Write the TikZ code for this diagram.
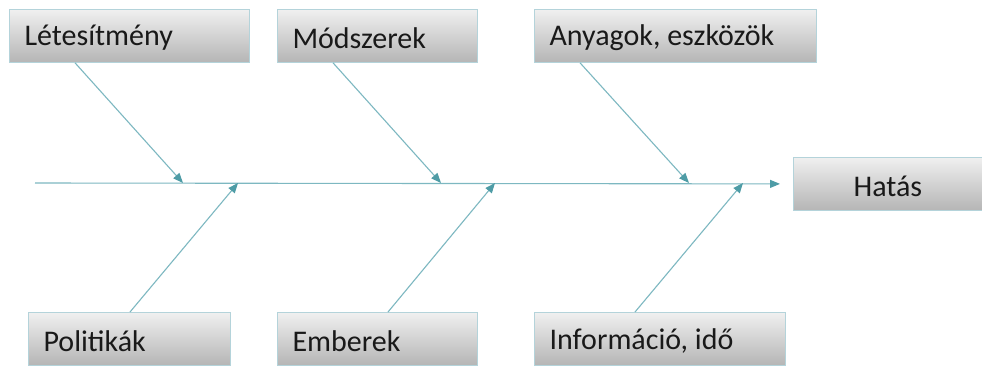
\documentclass[tikz,border=0pt]{standalone}
\usepackage{fontspec}
\setmainfont{Carlito}
\usetikzlibrary{calc,arrows.meta}
\definecolor{bone}{HTML}{7DB8C1}
\definecolor{bonetip}{HTML}{4E9CA6}
\definecolor{boxedge}{HTML}{B4D3DA}
\begin{document}
\begin{tikzpicture}[x=1pt,y=-1pt,
  cause/.style={anchor=north west, minimum height=53pt, inner sep=0pt,
    top color=gray!12, bottom color=gray!58, draw=boxedge, line width=0.8pt},
  label/.style={anchor=west, font=\fontsize{30}{34}\selectfont, text=black!90},
  bonearrow/.style={draw=bone, line width=1.1pt,
    -{Triangle[length=10pt,width=8pt,color=bonetip]}}]
\useasboundingbox (0,0) rectangle (982,365);
\fill[white] (0,0) rectangle (982,365);

% cause boxes
\node[cause, minimum width=240pt] (let) at (9,9) {};
\node[label] at ($(let.west)+(12,2)$) {Létesítmény};
\node[cause, minimum width=200pt] (mod) at (277,9) {};
\node[label] at ($(mod.west)+(12,2)$) {Módszerek};
\node[cause, minimum width=282pt] (any) at (534,9) {};
\node[label] at ($(any.west)+(12,2)$) {Anyagok, eszközök};
\node[cause, minimum width=202pt] (pol) at (28,312) {};
\node[label] at ($(pol.west)+(12,2)$) {Politikák};
\node[cause, minimum width=200pt] (emb) at (277,312) {};
\node[label] at ($(emb.west)+(12,2)$) {Emberek};
\node[cause, minimum width=251pt] (inf) at (534,312) {};
\node[label] at ($(inf.west)+(12,2)$) {Információ, idő};

% effect box
\node[cause, minimum width=189pt] (hat) at (793,157) {};
\node[label, anchor=center] at ($(hat.center)+(0,2)$) {Hatás};

% spine
\coordinate (s0) at (35,183);
\coordinate (s1) at ($(hat.west)+(-13,0)$);
\draw[bonearrow] (s0) -- (s1);

% ribs
\coordinate (t1) at (183,183);
\coordinate (t2) at (441,183);
\coordinate (t3) at (689,183);
\coordinate (b1) at (238,183);
\coordinate (b2) at (495,183);
\coordinate (b3) at (743,183);
\draw[bonearrow] ($(let.south west)+(66,0)$) -- (t1);
\draw[bonearrow] ($(mod.south west)+(56,0)$) -- (t2);
\draw[bonearrow] ($(any.south west)+(46,0)$) -- (t3);
\draw[bonearrow] ($(pol.north west)+(102,0)$) -- (b1);
\draw[bonearrow] ($(emb.north west)+(111,0)$) -- (b2);
\draw[bonearrow] ($(inf.north west)+(101,0)$) -- (b3);
\end{tikzpicture}
\end{document}
